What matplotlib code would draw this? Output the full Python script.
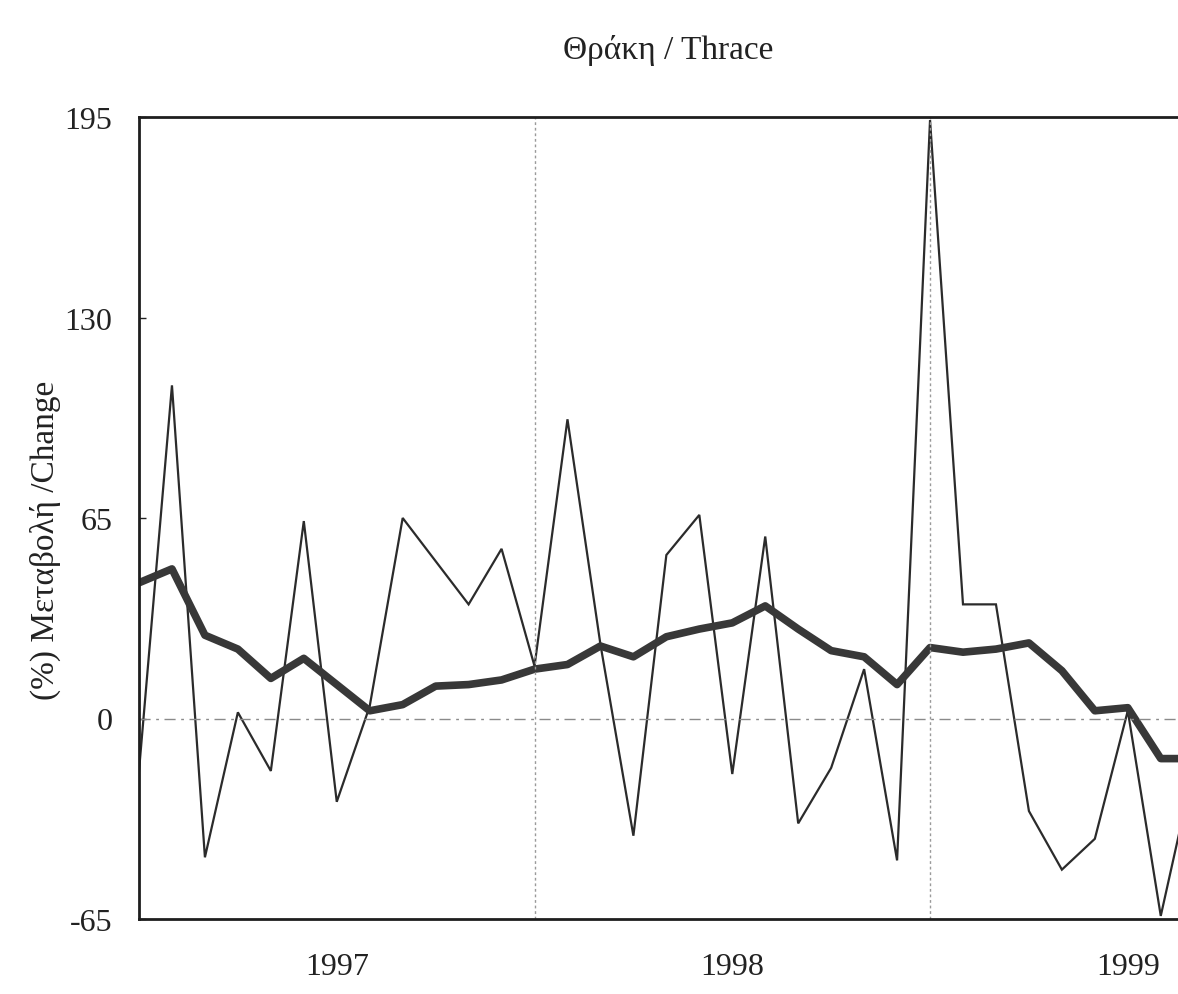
import matplotlib.pyplot as plt
import numpy as np

# monthly % change, Jan 1997 onwards (one value per month)
months = np.arange(33)
change = [-17, 108, -45, 2, -17, 64, -27, 4, 65, 51, 37, 55,
          17, 97, 24, -38, 53, 66, -18, 59, -34, -16, 16, -46,
          194, 37, 37, -30, -49, -39, 2.5, -64, -16]
# smoothed trend (thick line)
trend = [44, 48.5, 27, 22.5, 13, 19.5, 11, 2.5, 4.5, 10.5, 11, 12.5,
         16, 17.5, 23.5, 20, 26.5, 29, 31, 36.5, 29, 22, 20, 11,
         23, 21.5, 22.5, 24.5, 15.5, 2.5, 3.5, -13, -13]

y_ticks = [-65, 0, 65, 130, 195]
year_pos = [6, 18, 30]
year_labels = ['1997', '1998', '1999']
year_breaks = [12, 24]

plt.rcParams['font.family'] = ['Liberation Serif', 'DejaVu Serif']

fig = plt.figure(figsize=(11.78, 9.95), dpi=100)
ax = fig.add_axes([139 / 1178, 75 / 995, 32 * 32.96 / 1178, 802 / 995])

ax.plot(months, change, color='#2b2b2b', lw=1.6, solid_joinstyle='miter')
ax.plot(months, trend, color='#383838', lw=5.5, solid_joinstyle='round')

ax.axhline(0, color='#8a8a8a', lw=1.0, ls=(0, (8, 4, 2, 4)))
for b in year_breaks:
    ax.axvline(b, color='#9a9a9a', lw=1.0, ls=(0, (2, 2)))

ax.set_xlim(0, 32)
ax.set_ylim(-65, 195)
ax.set_yticks(y_ticks)
ax.set_yticklabels([str(v) for v in y_ticks])
ax.tick_params(axis='y', direction='in', length=5, width=1, pad=19,
               labelsize=23, colors='#222222')

ax.set_xticks([])
ax.set_xticks(year_pos, minor=True)
ax.set_xticklabels(year_labels, minor=True)
ax.tick_params(axis='x', which='minor', length=0, pad=24, labelsize=23,
               colors='#222222')

for side in ['left', 'top', 'bottom']:
    ax.spines[side].set_linewidth(2)
    ax.spines[side].set_color('#1e1e1e')
ax.spines['right'].set_visible(False)

fig.text(668 / 1178, 1 - 50 / 995, 'Θράκη / Thrace', ha='center', va='center',
         fontsize=24, color='#222222')
fig.text(45 / 1178, 1 - 540 / 995, '(%) Μεταβολή /Change', rotation=90,
         ha='center', va='center', fontsize=24, color='#222222')

fig.savefig('out.png', dpi=100)
